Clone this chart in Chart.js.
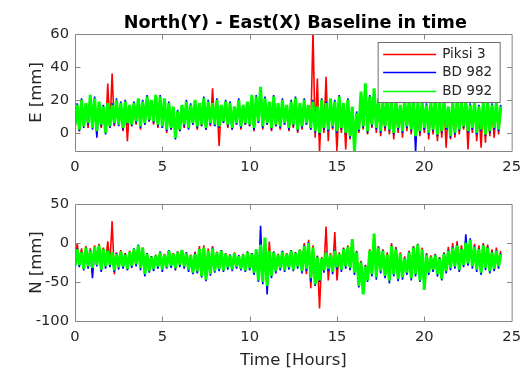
<!DOCTYPE html>
<html>
<head>
<meta charset="utf-8">
<script src="https://cdn.jsdelivr.net/npm/chart.js@4.4.1/dist/chart.umd.min.js"></script>
<style>
  html, body { margin: 0; padding: 0; background: #fff; overflow: hidden; }
  #topBox { position: absolute; left: 0; top: 0; width: 528px; height: 184px; }
  #botBox { position: absolute; left: 0; top: 184px; width: 528px; height: 190px; }
</style>
</head>
<body>
<div id="topBox"><canvas id="eastChart" width="528" height="184"></canvas></div>
<div id="botBox"><canvas id="northChart" width="528" height="190"></canvas></div>
<script>
// Sample times (hours); each series alternates between the low and high
// extremes of the signal inside successive 7.5-minute slots.
const HOURS = [
  0,0.125,0.25,0.375,0.5,0.625,0.75,0.875, 1,1.125,1.25,1.375,1.5,1.625,1.75,1.875,
  2,2.125,2.25,2.375,2.5,2.625,2.75,2.875, 3,3.125,3.25,3.375,3.5,3.625,3.75,3.875,
  4,4.125,4.25,4.375,4.5,4.625,4.75,4.875, 5,5.125,5.25,5.375,5.5,5.625,5.75,5.875,
  6,6.125,6.25,6.375,6.5,6.625,6.75,6.875, 7,7.125,7.25,7.375,7.5,7.625,7.75,7.875,
  8,8.125,8.25,8.375,8.5,8.625,8.75,8.875, 9,9.125,9.25,9.375,9.5,9.625,9.75,9.875,
  10,10.125,10.25,10.375,10.5,10.625,10.75,10.875, 11,11.125,11.25,11.375,11.5,11.625,11.75,11.875,
  12,12.125,12.25,12.375,12.5,12.625,12.75,12.875, 13,13.125,13.25,13.375,13.5,13.625,13.75,13.875,
  14,14.125,14.25,14.375,14.5,14.625,14.75,14.875, 15,15.125,15.25,15.375,15.5,15.625,15.75,15.875,
  16,16.125,16.25,16.375,16.5,16.625,16.75,16.875, 17,17.125,17.25,17.375,17.5,17.625,17.75,17.875,
  18,18.125,18.25,18.375,18.5,18.625,18.75,18.875, 19,19.125,19.25,19.375,19.5,19.625,19.75,19.875,
  20,20.125,20.25,20.375,20.5,20.625,20.75,20.875, 21,21.125,21.25,21.375,21.5,21.625,21.75,21.875,
  22,22.125,22.25,22.375,22.5,22.625,22.75,22.875, 23,23.125,23.25,23.375,23.5,23.625,23.75,23.875,
  24,24.125,24.25,24.375];

const SERIES_NAMES = ['Piksi 3', 'BD 982', 'BD 992'];
const SERIES_COLORS = ['#ff0000', '#0000ff', '#00ff00'];

const X_TICKS = [0, 5, 10, 15, 20, 25];
const E_TICKS = [0, 20, 40, 60];
const N_TICKS = [-100, -50, 0, 50];

// ---- East component [mm] ----
const E_PIKSI = [
  2,16, 1,18, 5,17, 3,21, 4,19, -1,18, 3,15, 1,30, 3,36, 4,19,
  6,17, 1,18, -5,16, 4,17, 5,20, 2,18, 5,21, 7,19, 5,22, 3,21,
  3,20, 0,17, 2,15, -2,12, 1,16, 3,18, 4,16, 5,19, 2,17, 4,20,
  2,18, 4,27, 4,19, -8,16, 6,18, 3,17, 2,15, 5,19, 2,16, 5,18,
  4,22, 1,21, 6,26, 2,20, 5,18, 1,21, 4,17, 2,19, 5,16, 1,18,
  3,20, 0,17, 2,19, 5,16, 2,62, -3,33, -12,19, 0,34, -5,20, 2,18,
  -12,21, 0,17, -10,19, -4,15, -7,11, 0,23, 2,27, -1,20, 3,25, 0,18,
  -2,17, 1,20, -1,17, -4,19, 0,16, -3,19, 1,17, -1,20, -5,16, -2,18,
  0,16, -4,17, -1,19, -5,16, -3,18, -9,15, -4,17, -3,19, -1,16, 2,18,
  -10,15, 0,17, -5,14, -9,16, -6,18, -2,15, -3,17, -1,14];
const E_BD982 = [
  3,18, 1,21, 3,17, 5,22, 2,22, -3,18, 4,17, -1,17, 3,18, 5,21,
  4,19, 2,20, 5,16, 4,19, 6,20, 3,20, 5,23, 7,19, 6,22, 4,23,
  3,20, 1,19, 2,15, -4,14, 1,16, 4,20, 2,18, 5,19, 3,17, 4,22,
  2,20, 5,17, 4,21, 3,16, 6,20, 4,19, 2,15, 5,21, 3,16, 5,18,
  4,22, 2,23, 6,27, 3,22, 5,18, 2,23, 4,17, 3,21, 5,16, 2,20,
  4,22, 1,17, 3,21, 5,16, 2,20, 0,15, -1,21, 2,19, 1,20, 3,20,
  0,23, 2,17, -1,21, -3,15, -5,13, 1,24, 3,29, 0,23, 4,26, 2,21,
  0,20, 3,23, 1,17, -1,21, 2,16, 0,22, 3,20, 1,21, -12,19, 0,21,
  2,18, -1,20, 1,22, -2,17, 0,21, 2,15, -3,20, -1,20, 1,19, 3,21,
  0,18, 2,20, -1,17, 1,19, -2,21, 0,18, 2,20, 1,17];
const E_BD992 = [
  5,17, 2,20, 4,18, 6,23, 3,21, 1,19, 5,16, 0,18, 4,17, 6,20,
  5,18, 3,19, 6,17, 5,18, 7,21, 4,19, 6,22, 8,20, 7,23, 5,22,
  4,21, 2,18, 3,16, -3,13, 2,17, 5,19, 3,17, 6,20, 4,18, 5,21,
  3,19, 6,18, 5,20, 4,17, 7,19, 5,18, 3,16, 6,20, 4,17, 6,19,
  5,23, 3,22, 7,28, 4,21, 6,19, 3,22, 5,18, 4,20, 6,17, 3,19,
  5,21, 2,18, 4,20, 6,17, 3,19, 1,16, 0,20, 3,18, 2,21, 4,19,
  1,22, 3,18, 0,20, -2,16, -11,12, 2,25, 4,30, 1,22, 5,27, 3,20,
  1,19, 4,22, 2,18, 0,20, 3,17, 1,21, 4,19, 2,22, -2,18, 1,20,
  3,17, 0,19, 2,21, -1,18, 1,20, 3,16, -2,19, 0,21, 2,18, 4,20,
  1,17, 3,19, 0,16, 2,18, -1,20, 1,17, 3,19, 2,16];

// ---- North component [mm] ----
const N_PIKSI = [
  -27,0, -25,-7, -30,-4, -28,-7, -29,-3, -26,-1, -31,-6, -28,2, -26,28, -40,-12,
  -29,-9, -28,-13, -30,-10, -27,-9, -25,-4, -30,-6, -36,-13, -33,-17, -31,-15, -28,-11,
  -31,-14, -29,-10, -27,-13, -30,-11, -26,-9, -28,-12, -31,-15, -35,-11, -33,-4, -38,-3,
  -43,-7, -37,-4, -34,-11, -31,-9, -33,-13, -29,-15, -32,-12, -28,-16, -31,-14, -33,-11,
  -30,-13, -35,-9, -44,-3, -46,1, -50,2, -39,-11, -34,-14, -30,-10, -33,-13, -29,-9,
  -32,-12, -28,-8, -34,0, -40,4, -58,-3, -55,-16, -84,-18, -33,21, -48,-13, -35,14,
  -48,-12, -32,-6, -28,-3, -30,3, -35,-10, -50,-23, -57,-28, -45,-8, -37,8, -41,-4,
  -34,-8, -39,-12, -45,0, -37,-5, -43,-12, -41,-17, -36,-10, -42,-4, -37,-3, -45,-6,
  -52,-13, -36,-16, -32,-14, -37,-18, -42,-12, -34,-5, -30,0, -28,2, -32,-3, -26,2,
  -24,3, -28,-1, -32,-3, -35,0, -30,-2, -34,-8, -31,-6, -28,-10];
const N_BD982 = [
  -32,-7, -31,-11, -35,-7, -33,-9, -45,-6, -30,-4, -37,-9, -33,-9, -31,-13, -37,-13,
  -34,-12, -33,-14, -35,-13, -32,-7, -30,-2, -35,-7, -43,-13, -38,-17, -36,-17, -33,-11,
  -37,-16, -33,-9, -32,-15, -35,-11, -31,-10, -33,-12, -37,-17, -40,-13, -39,-9, -44,-7,
  -49,-11, -42,-6, -38,-13, -36,-9, -37,-15, -34,-15, -36,-14, -33,-16, -35,-16, -37,-11,
  -35,-13, -41,-9, -50,22, -53,4, -66,-11, -45,-11, -39,-16, -35,-10, -37,-15, -34,-9,
  -36,-12, -33,-10, -39,-3, -36,1, -50,-7, -55,-17, -50,-21, -38,-11, -36,-16, -40,-9,
  -34,-15, -37,-7, -33,-6, -35,4, -41,-11, -57,-24, -64,-29, -50,-11, -43,10, -47,-5,
  -39,-9, -45,-16, -52,-3, -43,-7, -49,-15, -47,-19, -41,-11, -48,-5, -43,-1, -50,-9,
  -56,-14, -41,-19, -37,-15, -43,-19, -48,-13, -39,-9, -35,-5, -33,-2, -37,-7, -31,11,
  -29,6, -33,-4, -37,-7, -41,-2, -35,-5, -39,-11, -36,-9, -33,-13];
const N_BD992 = [
  -30,-8, -28,-12, -33,-6, -30,-10, -32,-5, -28,-3, -34,-8, -30,-10, -28,-12, -35,-14,
  -31,-11, -30,-15, -33,-12, -29,-8, -27,-3, -32,-6, -40,-14, -36,-18, -33,-16, -30,-12,
  -34,-15, -31,-10, -29,-14, -32,-12, -28,-9, -30,-13, -34,-16, -38,-14, -36,-8, -42,-6,
  -47,-10, -40,-7, -36,-12, -33,-10, -35,-14, -31,-16, -34,-13, -30,-17, -33,-15, -35,-12,
  -32,-14, -38,-8, -48,-2, -50,7, -55,-10, -42,-12, -36,-15, -32,-11, -35,-14, -31,-10,
  -34,-13, -30,-9, -36,-4, -33,0, -45,-6, -53,-18, -48,-20, -35,-12, -33,-15, -37,-10,
  -31,-14, -34,-8, -30,-5, -32,5, -38,-12, -55,-25, -66,-30, -48,-10, -40,12, -44,-6,
  -36,-10, -42,-15, -48,-4, -40,-8, -46,-14, -44,-20, -38,-12, -45,-6, -40,-2, -48,-8,
  -60,-15, -38,-18, -34,-16, -40,-20, -46,-14, -36,-10, -32,-6, -30,-3, -34,-8, -28,0,
  -26,4, -30,-5, -34,-8, -38,-3, -32,-6, -36,-12, -33,-10, -30,-14];

const FONT = 'DejaVu Sans';
const TEXT_COLOR = '#262626';
const FRAME_COLOR = '#858585';
const LINE_WIDTHS = [1.6, 1.6, 3];

function seriesDataset(idx, values) {
  return {
    label: SERIES_NAMES[idx],
    data: HOURS.map((t, i) => ({ x: t, y: values[i] })),
    borderColor: SERIES_COLORS[idx],
    backgroundColor: SERIES_COLORS[idx],
    borderWidth: LINE_WIDTHS[idx],
    borderJoinStyle: 'bevel',
    pointRadius: 0,
    fill: false,
    order: 3 - idx            // later series are drawn on top
  };
}

// box around the axes with inward tick marks on all four sides
const frame = {
  id: 'frame',
  afterDatasetsDraw(chart) {
    const { ctx, chartArea: a, scales: { x, y } } = chart;
    const L = a.left + 0.5, R = a.right + 0.5, T = a.top + 0.5, B = a.bottom + 0.5;
    ctx.save();
    ctx.strokeStyle = FRAME_COLOR;
    ctx.lineWidth = 1;
    ctx.beginPath();
    ctx.rect(L, T, R - L, B - T);
    x.ticks.forEach(tk => {
      const px = Math.round(x.getPixelForValue(tk.value)) + 0.5;
      if (px <= L + 1 || px >= R - 1) return;
      ctx.moveTo(px, B); ctx.lineTo(px, B - 5);
      ctx.moveTo(px, T); ctx.lineTo(px, T + 5);
    });
    y.ticks.forEach(tk => {
      const py = Math.round(y.getPixelForValue(tk.value)) + 0.5;
      if (py <= T + 1 || py >= B - 1) return;
      ctx.moveTo(L, py); ctx.lineTo(L + 5, py);
      ctx.moveTo(R, py); ctx.lineTo(R - 5, py);
    });
    ctx.stroke();
    ctx.restore();
  }
};

// boxed legend in the upper right corner of the axes
const boxLegend = {
  id: 'boxLegend',
  afterDraw(chart, args, opts) {
    if (!opts.show) return;
    const { ctx, chartArea: a } = chart;
    const w = 122, h = 60;
    const bx = a.right - 133.5, by = a.top + 8.5;
    ctx.save();
    ctx.fillStyle = '#fff';
    ctx.fillRect(bx, by, w, h);
    ctx.strokeStyle = '#6e6e6e';
    ctx.lineWidth = 1;
    ctx.strokeRect(bx, by, w, h);
    ctx.font = '13.6px "' + FONT + '"';
    ctx.textBaseline = 'middle';
    ctx.textAlign = 'left';
    SERIES_NAMES.forEach((name, i) => {
      const yy = Math.round(a.top + 20 + i * 18.4) + 0.5;
      ctx.strokeStyle = SERIES_COLORS[i];
      ctx.lineWidth = 1.3;
      ctx.beginPath();
      ctx.moveTo(bx + 5, yy); ctx.lineTo(bx + 58, yy);
      ctx.stroke();
      ctx.fillStyle = TEXT_COLOR;
      ctx.fillText(name, bx + 64, yy);
    });
    ctx.restore();
  }
};

// figure title drawn above the upper axes
const figTitle = {
  id: 'figTitle',
  afterDraw(chart, args, opts) {
    if (!opts.text) return;
    const { ctx, chartArea: a } = chart;
    ctx.save();
    ctx.font = 'bold 17.6px "' + FONT + '"';
    ctx.fillStyle = '#000';
    ctx.textAlign = 'center';
    ctx.textBaseline = 'alphabetic';
    ctx.fillText(opts.text, (a.left + a.right) / 2 + 2, a.top - 6);
    ctx.restore();
  }
};

function makeChart(canvasId, cfg) {
  const H = cfg.height;
  return new Chart(document.getElementById(canvasId), {
    type: 'line',
    data: { datasets: cfg.datasets },
    options: {
      responsive: false,
      animation: false,
      devicePixelRatio: 1,
      layout: { padding: { left: 0, right: 13, top: cfg.plotTop, bottom: 0 } },
      plugins: {
        legend: { display: false },
        tooltip: { enabled: false },
        boxLegend: { show: cfg.legend },
        figTitle: { text: cfg.title }
      },
      scales: {
        x: {
          type: 'linear', min: 0, max: 25,
          afterBuildTicks: s => { s.ticks = X_TICKS.map(v => ({ value: v })); },
          afterFit: s => { s.height = H - cfg.plotBottom; },
          grid: { display: false, drawTicks: false },
          border: { display: false },
          ticks: { color: TEXT_COLOR, font: { family: FONT, size: 14.7 }, padding: 7, maxRotation: 0 },
          title: cfg.xTitle ? { display: true, text: cfg.xTitle, color: TEXT_COLOR,
                   font: { family: FONT, size: 16.5 }, padding: { top: 0, bottom: 3 } } : { display: false }
        },
        y: {
          type: 'linear', min: cfg.yMin, max: cfg.yMax,
          afterBuildTicks: s => { s.ticks = cfg.yTicks.map(v => ({ value: v })); },
          afterFit: s => { s.width = 75; },
          grid: { display: false, drawTicks: false },
          border: { display: false },
          ticks: { color: TEXT_COLOR, font: { family: FONT, size: 14.7 }, padding: 6 },
          title: { display: true, text: cfg.yTitle, color: TEXT_COLOR,
                   font: { family: FONT, size: 16.5 }, padding: { top: 27, bottom: 0 } }
        }
      }
    },
    plugins: [figTitle, frame, boxLegend]
  });
}

makeChart('eastChart', {
  height: 184, plotTop: 34, plotBottom: 151,
  yMin: -11, yMax: 60, yTicks: E_TICKS, yTitle: 'E [mm]',
  title: 'North(Y) - East(X) Baseline in time', legend: true,
  datasets: [seriesDataset(0, E_PIKSI), seriesDataset(1, E_BD982), seriesDataset(2, E_BD992)]
});

makeChart('northChart', {
  height: 190, plotTop: 20, plotBottom: 137,
  yMin: -100, yMax: 50, yTicks: N_TICKS, yTitle: 'N [mm]',
  xTitle: 'Time [Hours]', legend: false,
  datasets: [seriesDataset(0, N_PIKSI), seriesDataset(1, N_BD982), seriesDataset(2, N_BD992)]
});
</script>
</body>
</html>
